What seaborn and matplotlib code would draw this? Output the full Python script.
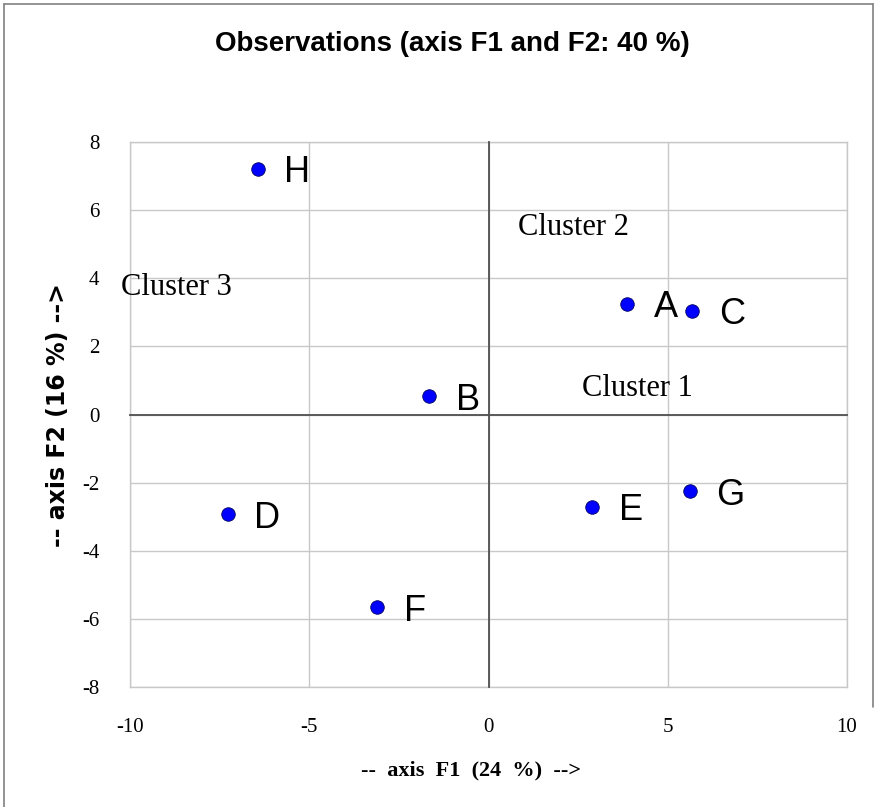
import numpy as np
import pandas as pd
import matplotlib
matplotlib.use("Agg")
import matplotlib.pyplot as plt
import seaborn as sns
from matplotlib.lines import Line2D

# ---- data ----
obs_labels = ["A", "B", "C", "D", "E", "F", "G", "H"]
f1_values = [3.87, -1.65, 5.69, -7.28, 2.90, -3.10, 5.61, -6.43]
f2_values = [3.25, 0.53, 3.04, -2.93, -2.71, -5.66, -2.26, 7.22]

cluster_names = ["Cluster 1", "Cluster 2", "Cluster 3"]
cluster_x = [2.62, 0.83, -10.25]
cluster_y = [0.88, 5.60, 3.82]

x_ticks = [-10, -5, 0, 5, 10]
y_ticks = [-8, -6, -4, -2, 0, 2, 4, 6, 8]

title_text = "Observations (axis F1 and F2: 40 %)"
xlabel_text = "--  axis  F1  (24  %)  -->"
ylabel_text = "-- axis F2 (16 %) -->"

# ---- style ----
sns.set_theme(style="white")
plt.rcParams["font.family"] = ["Liberation Serif", "DejaVu Sans"]
plt.rcParams["axes.unicode_minus"] = False
plt.rcParams["text.color"] = "black"

W, H = 877, 807
fig = plt.figure(figsize=(W / 100, H / 100), dpi=100)
fig.patch.set_facecolor("white")

left, right, top, bottom = 130, 847, 142, 687
pos = [left / W, 1 - bottom / H, (right - left) / W, (bottom - top) / H]
ax = fig.add_axes(pos)

df = pd.DataFrame({"F1": f1_values, "F2": f2_values, "obs": obs_labels})
sns.scatterplot(data=df, x="F1", y="F2", ax=ax, color="#0000ff",
                edgecolor="#000060", linewidth=0.6, s=95, zorder=5,
                clip_on=False, legend=False)

ax.set_xlim(x_ticks[0], x_ticks[-1])
ax.set_ylim(y_ticks[0], y_ticks[-1])
ax.set_xticks(x_ticks)
ax.set_yticks(y_ticks)
ax.grid(True, color="#c8c8c8", linewidth=1.0)
ax.set_axisbelow(True)
for sp in ax.spines.values():
    sp.set_color("#c8c8c8")
    sp.set_linewidth(1.0)
ax.tick_params(axis="both", length=0, labelsize=15, colors="black")
ax.tick_params(axis="y", pad=22)
ax.tick_params(axis="x", pad=22)
for t in ax.get_xticklabels() + ax.get_yticklabels():
    t.set_fontfamily("Liberation Serif")
ax.set_xlabel("")
ax.set_ylabel("")

# point labels
for lab, x, y in zip(obs_labels, f1_values, f2_values):
    ax.annotate(lab, (x, y), xytext=(19, 0), textcoords="offset points",
                fontsize=26, family="Liberation Sans", va="center_baseline",
                ha="left", color="black", zorder=6)

# cluster labels
for name, x, y in zip(cluster_names, cluster_x, cluster_y):
    ax.text(x, y, name, fontsize=22, family="Liberation Serif",
            va="center_baseline", ha="left", color="black", clip_on=False)

# central axes through the origin with crossing ticks
ax2 = fig.add_axes(pos, facecolor="none")
ax2.set_xlim(x_ticks[0], x_ticks[-1])
ax2.set_ylim(y_ticks[0], y_ticks[-1])
ax2.set_xticks(x_ticks)
ax2.set_yticks(y_ticks)
ax2.spines["left"].set_position(("data", 0))
ax2.spines["bottom"].set_position(("data", 0))
ax2.spines["top"].set_visible(False)
ax2.spines["right"].set_visible(False)
for s in ["left", "bottom"]:
    ax2.spines[s].set_color("#505050")
    ax2.spines[s].set_linewidth(1.3)
ax2.tick_params(axis="both", direction="inout", length=14, width=1.1,
                color="#505050", labelleft=False, labelbottom=False)
ax2.grid(False)

# titles
fig.text(452 / W, 1 - 44 / H, title_text, fontsize=20, fontweight="bold",
         family="Liberation Sans", ha="center", va="center", color="black")
fig.text(471 / W, 1 - 770 / H, xlabel_text, fontsize=16, fontweight="bold",
         family="Liberation Serif", ha="center", va="center", color="black")
fig.text(58 / W, 1 - 415 / H, ylabel_text, fontsize=17, fontweight="bold",
         family="DejaVu Sans", ha="center", va="center", rotation=90,
         color="black")

# chart border (left, top, right)
fig.add_artist(Line2D([4 / W, 4 / W], [0, 1 - 4 / H], transform=fig.transFigure,
                      color="#808080", lw=1.2))
fig.add_artist(Line2D([4 / W, 873 / W], [1 - 4 / H, 1 - 4 / H],
                      transform=fig.transFigure, color="#808080", lw=1.2))
fig.add_artist(Line2D([873 / W, 873 / W], [1 - 4 / H, 100 / H],
                      transform=fig.transFigure, color="#808080", lw=1.2))

fig.savefig("out.png", dpi=100, facecolor="white")
